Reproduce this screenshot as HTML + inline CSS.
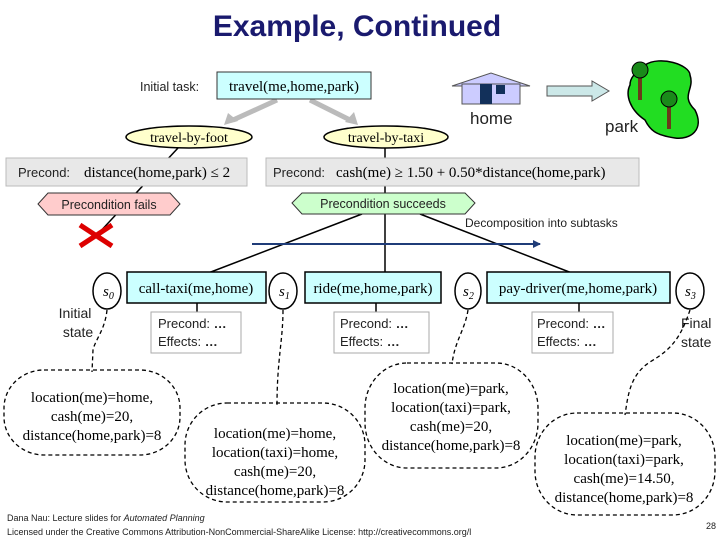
<!DOCTYPE html>
<html><head><meta charset="utf-8"><style>
html,body{margin:0;padding:0;background:#fff;}
svg{display:block;}
.s{font-family:"Liberation Sans",sans-serif;}
.r{font-family:"Liberation Serif",serif;}
</style></head><body>
<svg width="720" height="540" viewBox="0 0 720 540" xmlns="http://www.w3.org/2000/svg">
<defs>
<marker id="ah" markerWidth="8" markerHeight="8" refX="7" refY="4" orient="auto" markerUnits="userSpaceOnUse"><path d="M0,0 L8,4 L0,8 z" fill="#1f3c78"/></marker>
</defs>
<text x="357" y="36" text-anchor="middle" class="s" font-size="30" font-weight="bold" fill="#1a1a6e">Example, Continued</text>

<!-- lines behind -->
<line x1="178" y1="148" x2="97" y2="235" stroke="#000" stroke-width="1.5"/>
<line x1="385" y1="148" x2="385" y2="278" stroke="#000" stroke-width="1.5"/>
<line x1="362" y1="214" x2="203" y2="275" stroke="#000" stroke-width="1.5"/>
<line x1="420" y1="214" x2="577" y2="275" stroke="#000" stroke-width="1.5"/>
<line x1="252" y1="244" x2="540" y2="244" stroke="#1f3c78" stroke-width="2" marker-end="url(#ah)"/>

<!-- gray arrows -->
<line x1="277" y1="100" x2="233" y2="120" stroke="#bbb" stroke-width="5"/>
<path d="M224,125 L228,113 L238,121 z" fill="#bbb"/>
<line x1="310" y1="100" x2="350" y2="120" stroke="#bbb" stroke-width="5"/>
<path d="M358,125 L345,122 L354,112 z" fill="#bbb"/>

<text x="140" y="91" class="s" font-size="12.5" fill="#222">Initial task:</text>
<rect x="217" y="72" width="154" height="27" fill="#ccffff" stroke="#333" stroke-width="1"/>
<text x="294" y="91" text-anchor="middle" class="r" font-size="15">travel(me,home,park)</text>

<ellipse cx="189" cy="137" rx="63" ry="11" fill="#ffffcc" stroke="#000" stroke-width="1.5"/>
<text x="189" y="142" text-anchor="middle" class="r" font-size="14">travel-by-foot</text>
<ellipse cx="386" cy="137" rx="62" ry="11" fill="#ffffcc" stroke="#000" stroke-width="1.5"/>
<text x="386" y="142" text-anchor="middle" class="r" font-size="14">travel-by-taxi</text>

<rect x="6" y="158" width="241" height="28" fill="#e8e8e8" stroke="#bbb"/>
<text x="18" y="177" class="s" font-size="13" fill="#222">Precond:</text>
<text x="84" y="177" class="r" font-size="15">distance(home,park) ≤ 2</text>
<rect x="266" y="158" width="373" height="28" fill="#e8e8e8" stroke="#bbb"/>
<text x="273" y="177" class="s" font-size="13" fill="#222">Precond:</text>
<text x="336" y="177" class="r" font-size="15">cash(me) ≥ 1.50 + 0.50*distance(home,park)</text>

<path d="M38,204 L48,193 L170,193 L180,204 L170,215 L48,215 z" fill="#ffcccc" stroke="#333"/>
<text x="109" y="209" text-anchor="middle" class="s" font-size="12.5" fill="#222">Precondition fails</text>
<path d="M292,203 L302,193 L465,193 L475,203 L465,214 L302,214 z" fill="#ccffcc" stroke="#333"/>
<text x="383" y="208" text-anchor="middle" class="s" font-size="12.5" fill="#222">Precondition succeeds</text>

<line x1="80" y1="225" x2="112" y2="246" stroke="#dd0000" stroke-width="5"/>
<line x1="112" y1="225" x2="80" y2="246" stroke="#dd0000" stroke-width="5"/>

<text x="465" y="227" class="s" font-size="12" fill="#222">Decomposition into subtasks</text>

<!-- house -->
<path d="M452,86 L491,73 L530,86 z" fill="#ccccff" stroke="#555"/>
<rect x="462" y="84" width="58" height="20" fill="#ccccff" stroke="#555"/>
<rect x="480" y="84" width="12" height="20" fill="#12305a"/>
<rect x="496" y="85" width="9" height="9" fill="#12305a"/>
<text x="470" y="124" class="s" font-size="17" fill="#222">home</text>
<path d="M547,86 L592,86 L592,81 L609,91 L592,101 L592,96 L547,96 z" fill="#cce8e8" stroke="#555"/>
<path d="M645,65 C660,55 690,65 690,75 C695,90 680,95 695,110 C705,130 690,140 675,138 C655,135 650,130 645,120 C630,110 625,95 630,85 C630,75 640,70 645,65 z" fill="#22dd22" stroke="#000" stroke-width="1.5"/>
<rect x="638" y="75" width="4" height="25" fill="#6b3a1a"/>
<circle cx="640" cy="70" r="8" fill="#1a8a1a" stroke="#000"/>
<rect x="667" y="102" width="4" height="27" fill="#6b3a1a"/>
<circle cx="669" cy="99" r="8" fill="#1a8a1a" stroke="#000"/>
<text x="605" y="132" class="s" font-size="17" fill="#222">park</text>

<!-- subtasks -->
<ellipse cx="107" cy="291" rx="14" ry="18" fill="#fff" stroke="#000" stroke-width="1.5"/>
<text x="103" y="296" class="r" font-size="15" font-style="italic">s<tspan font-size="10" dy="3">0</tspan></text>
<rect x="127" y="272" width="139" height="31" fill="#ccffff" stroke="#000" stroke-width="1.5"/>
<text x="196" y="293" text-anchor="middle" class="r" font-size="15">call-taxi(me,home)</text>
<ellipse cx="283" cy="291" rx="14" ry="18" fill="#fff" stroke="#000" stroke-width="1.5"/>
<text x="279" y="296" class="r" font-size="15" font-style="italic">s<tspan font-size="10" dy="3">1</tspan></text>
<rect x="305" y="272" width="136" height="31" fill="#ccffff" stroke="#000" stroke-width="1.5"/>
<text x="373" y="293" text-anchor="middle" class="r" font-size="15">ride(me,home,park)</text>
<ellipse cx="468" cy="291" rx="13" ry="18" fill="#fff" stroke="#000" stroke-width="1.5"/>
<text x="463" y="296" class="r" font-size="15" font-style="italic">s<tspan font-size="10" dy="3">2</tspan></text>
<rect x="487" y="272" width="183" height="31" fill="#ccffff" stroke="#000" stroke-width="1.5"/>
<text x="578" y="293" text-anchor="middle" class="r" font-size="15">pay-driver(me,home,park)</text>
<ellipse cx="690" cy="291" rx="14" ry="18" fill="#fff" stroke="#000" stroke-width="1.5"/>
<text x="685" y="296" class="r" font-size="15" font-style="italic">s<tspan font-size="10" dy="3">3</tspan></text>

<line x1="197" y1="303" x2="197" y2="312" stroke="#000" stroke-width="1.5"/>
<line x1="376" y1="303" x2="376" y2="312" stroke="#000" stroke-width="1.5"/>
<line x1="579" y1="303" x2="579" y2="312" stroke="#000" stroke-width="1.5"/>
<g class="s" font-size="13" fill="#222">
<rect x="151" y="312" width="90" height="41" fill="#fff" stroke="#aaa"/>
<text x="158" y="328">Precond: <tspan font-weight="bold">…</tspan></text><text x="158" y="346">Effects: <tspan font-weight="bold">…</tspan></text>
<rect x="334" y="312" width="95" height="41" fill="#fff" stroke="#aaa"/>
<text x="340" y="328">Precond: <tspan font-weight="bold">…</tspan></text><text x="340" y="346">Effects: <tspan font-weight="bold">…</tspan></text>
<rect x="532" y="312" width="81" height="41" fill="#fff" stroke="#aaa"/>
<text x="537" y="328">Precond: <tspan font-weight="bold">…</tspan></text><text x="537" y="346">Effects: <tspan font-weight="bold">…</tspan></text>
<text x="75" y="318" text-anchor="middle" font-size="14">Initial</text>
<text x="78" y="337" text-anchor="middle" font-size="14">state</text>
<text x="681" y="328" font-size="14">Final</text>
<text x="681" y="347" font-size="14">state</text>
</g>

<!-- dashed -->
<g fill="none" stroke="#000" stroke-width="1.3" stroke-dasharray="4,3">
<path d="M107,310 C105,330 95,340 93,350 L92,372"/>
<path d="M283,310 C283,340 277,360 277,405"/>
<path d="M468,310 C465,330 455,340 452,364"/>
<path d="M690,310 C680,340 670,350 650,362 C630,375 628,395 625,415"/>
<rect x="4" y="370" width="176" height="85" rx="40" ry="38"/>
<rect x="185" y="403" width="180" height="99" rx="42" ry="42"/>
<rect x="365" y="363" width="173" height="105" rx="42" ry="45"/>
<rect x="535" y="413" width="180" height="102" rx="42" ry="44"/>
</g>
<g class="r" font-size="15" text-anchor="middle">
<text x="92" y="402">location(me)=home,</text><text x="92" y="421">cash(me)=20,</text><text x="92" y="440">distance(home,park)=8</text>
<text x="275" y="438">location(me)=home,</text><text x="275" y="457">location(taxi)=home,</text><text x="275" y="476">cash(me)=20,</text><text x="275" y="495">distance(home,park)=8</text>
<text x="451" y="393">location(me)=park,</text><text x="451" y="412">location(taxi)=park,</text><text x="451" y="431">cash(me)=20,</text><text x="451" y="450">distance(home,park)=8</text>
<text x="624" y="445">location(me)=park,</text><text x="624" y="464">location(taxi)=park,</text><text x="624" y="483">cash(me)=14.50,</text><text x="624" y="502">distance(home,park)=8</text>
</g>

<text x="7" y="521" class="s" font-size="9" fill="#222">Dana Nau: Lecture slides for <tspan font-style="italic">Automated Planning</tspan></text>
<text x="7" y="535" class="s" font-size="9" fill="#222">Licensed under the Creative Commons Attribution-NonCommercial-ShareAlike License: http://creativecommons.org/l</text>
<text x="706" y="529" class="s" font-size="9" fill="#222">28</text>
</svg>
</body></html>
